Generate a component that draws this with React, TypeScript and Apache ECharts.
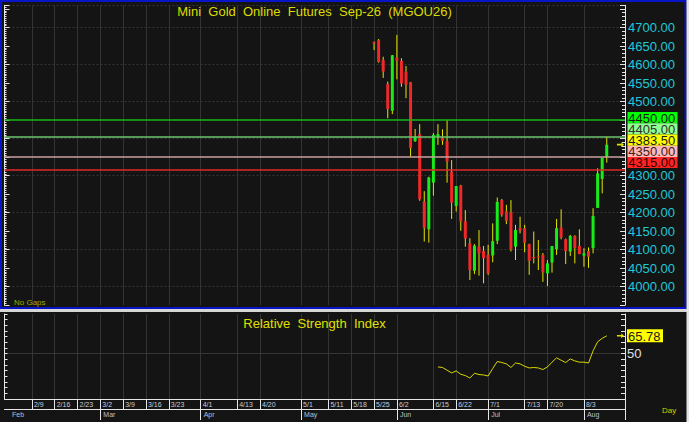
import React, { useEffect, useRef } from 'react';
import * as echarts from 'echarts';

// ---------- axis categories ----------
const firstDay = [2026, 1, 30];
const lastDay = [2026, 8, 14];
const noTradeDays = ['6/1', '6/10', '7/28', '7/29'];
const weekLabels = ['2/9', '2/16', '2/23', '3/2', '3/9', '3/16', '3/23', '4/1', '4/13', '4/20', '5/1', '5/11', '5/18', '5/25', '6/2', '6/15', '6/22', '7/1', '7/13', '7/20', '8/3'];
const monthStarts = ['2/2', '3/2', '4/1', '5/1', '6/2', '7/1', '8/3'];
const monthNames = ['Feb', 'Mar', 'Apr', 'May', 'Jun', 'Jul', 'Aug'];
// price tick labels that remain visible (the others sit under the level boxes)
const priceTickLabels = [4000, 4050, 4100, 4150, 4200, 4250, 4300, 4500, 4550, 4600, 4650, 4700];

// ---------- price data (daily OHLC from 5/25) ----------
const firstCandleDate = '5/25';
const opens = [4661, 4666, 4612, 4547, 4475, 4618, 4610, 4581, 4552, 4393, 4412, 4230, 4155, 4281, 4405, 4403, 4393, 4311, 4218, 4273, 4177, 4117, 4043, 4108, 4096, 4086, 4084, 4124, 4234, 4203, 4201, 4108, 4158, 4158, 4115, 4080, 4082, 4086, 4036, 4065, 4101, 4160, 4128, 4095, 4137, 4110, 4084, 4096, 4104, 4213, 4291, 4350];
const highs = [4662, 4669, 4621, 4554, 4626, 4680, 4617, 4596, 4553, 4426, 4439, 4258, 4297, 4415, 4439, 4425, 4450, 4342, 4272, 4275, 4207, 4131, 4115, 4153, 4110, 4113, 4171, 4241, 4237, 4221, 4234, 4167, 4189, 4167, 4116, 4149, 4126, 4091, 4072, 4110, 4183, 4209, 4130, 4140, 4139, 4155, 4104, 4106, 4212, 4320, 4348, 4405];
const lows = [4639, 4605, 4564, 4455, 4466, 4560, 4540, 4509, 4351, 4391, 4232, 4122, 4119, 4246, 4383, 4383, 4281, 4183, 4203, 4151, 4108, 4018, 4034, 4030, 4009, 4032, 4066, 4115, 4189, 4169, 4095, 4072, 4144, 4093, 4032, 4063, 4045, 4013, 4002, 4038, 4086, 4128, 4061, 4083, 4063, 4088, 4054, 4051, 4090, 4213, 4252, 4335];
const closes = [4657, 4607, 4581, 4480, 4625, 4610, 4549, 4545, 4375, 4405, 4236, 4159, 4295, 4410, 4412, 4394, 4338, 4227, 4272, 4176, 4130, 4045, 4111, 4090, 4077, 4036, 4123, 4229, 4194, 4178, 4101, 4153, 4151, 4119, 4070, 4077, 4080, 4038, 4063, 4110, 4158, 4133, 4096, 4137, 4105, 4088, 4090, 4081, 4191, 4306, 4348, 4383.5];

// ---------- RSI ----------
const rsiFirstDate = '6/16';
const rsiValues = [38.3, 37.8, 35.4, 33.0, 34.8, 31.8, 30.7, 28.5, 32.7, 31.6, 31.2, 30.3, 36.9, 43.1, 42.2, 41.0, 37.8, 41.8, 41.0, 38.9, 37.4, 37.8, 37.4, 36.0, 38.3, 42.5, 46.3, 44.2, 42.2, 45.4, 43.6, 42.5, 42.5, 41.8, 52.5, 60.5, 63.5, 65.78];

// ---------- reference levels ----------
const levelValues = [4450, 4405, 4383.5, 4350, 4315];
const levelHasLine = [true, true, false, true, true];
const levelLineColors = ['#16b816', '#6cc46c', '', '#c8a0a0', '#e02828'];
const levelBoxColors = ['#00ff00', '#90ff90', '#ffff00', '#ffb8b8', '#ff2424'];
const levelTextColors = ['#1a1a1a', '#303030', '#1a1a1a', '#402020', '#300000'];

const FONT = 'Liberation Sans, Arial, sans-serif';

function buildDates(): string[] {
  const out: string[] = [];
  const d = new Date(Date.UTC(firstDay[0], firstDay[1] - 1, firstDay[2]));
  const end = Date.UTC(lastDay[0], lastDay[1] - 1, lastDay[2]);
  while (d.getTime() <= end) {
    const wd = d.getUTCDay();
    const s = `${d.getUTCMonth() + 1}/${d.getUTCDate()}`;
    if (wd !== 0 && wd !== 6 && noTradeDays.indexOf(s) < 0) out.push(s);
    d.setUTCDate(d.getUTCDate() + 1);
  }
  return out;
}

export default function App() {
  const ref = useRef<HTMLDivElement>(null);

  useEffect(() => {
    document.body.style.margin = '0';
    if (!ref.current) return;
    const chart = echarts.init(ref.current, undefined, { renderer: 'svg' });

    const cats = buildDates();
    const lastIdx = cats.length - 1;
    const weekSet = new Set(weekLabels);
    const c0 = cats.indexOf(firstCandleDate);
    const r0 = cats.indexOf(rsiFirstDate);
    const candleData = opens.map((o, i) => [c0 + i, o, closes[i], lows[i], highs[i]]);
    const rsiData = rsiValues.map((v, i) => [cats[r0 + i], v]);
    const arrowCat = cats[c0 + opens.length + 2];

    const gridColor = '#343434';
    const white = '#e6e6e6';
    const rsiSplitColors = [];
    for (let v = 10; v <= 85; v += 5) rsiSplitColors.push(v === 50 ? gridColor : 'rgba(0,0,0,0)');

    const arrowPath = 'path://M0,2L5,2L5,0L8,3L5,6L5,4L0,4Z';

    const option: any = {
      animation: false,
      backgroundColor: '#141414',
      textStyle: { fontFamily: FONT },
      grid: [
        { left: 4.5, right: 64, top: 5.3, height: 299.9 },
        { left: 4.5, right: 64, top: 314, height: 85 },
      ],
      xAxis: [
        {
          gridIndex: 0, type: 'category', data: cats, boundaryGap: false,
          axisLine: { show: false }, axisTick: { show: false }, axisLabel: { show: false },
          splitLine: { show: true, interval: (i: number, v: string) => weekSet.has(v), lineStyle: { color: gridColor, width: 1 } },
        },
        {
          gridIndex: 1, type: 'category', data: cats, boundaryGap: false, position: 'bottom',
          axisLine: { show: true, lineStyle: { color: white, width: 1 } },
          axisTick: { show: true, interval: (i: number, v: string) => weekSet.has(v) || i === lastIdx, length: 10, lineStyle: { color: white } },
          axisLabel: {
            show: true, interval: (i: number, v: string) => weekSet.has(v), formatter: (v: string) => v,
            color: '#c4ccdc', fontSize: 7, align: 'left', margin: 2, padding: [0, 0, 0, 2], fontFamily: FONT,
          },
          splitLine: { show: true, interval: (i: number, v: string) => weekSet.has(v), lineStyle: { color: gridColor, width: 1 } },
        },
        {
          gridIndex: 1, type: 'category', data: cats, boundaryGap: false, position: 'bottom', offset: 10,
          axisLine: { show: true, lineStyle: { color: white, width: 1 } },
          axisTick: { show: true, interval: (i: number, v: string) => monthStarts.slice(1).indexOf(v) >= 0 || i === lastIdx, length: 11, lineStyle: { color: white } },
          axisLabel: {
            show: true, interval: (i: number, v: string) => monthStarts.indexOf(v) >= 0,
            formatter: (v: string) => monthNames[monthStarts.indexOf(v)] || '',
            color: '#b4c0d4', fontSize: 7, align: 'left', margin: 2, padding: [0, 0, 0, 3], fontFamily: FONT,
          },
          splitLine: { show: false },
        },
      ],
      yAxis: [
        {
          gridIndex: 0, type: 'value', position: 'right', min: 3950, max: 4760, interval: 50,
          axisLine: { show: true, lineStyle: { color: white } },
          axisTick: { show: true, inside: true, length: 5, lineStyle: { color: white } },
          minorTick: { show: true, splitNumber: 5, length: 3, lineStyle: { color: white } },
          axisLabel: {
            show: true, margin: 3, color: '#1ec8d8', fontSize: 13, fontFamily: FONT,
            formatter: (v: number) => (priceTickLabels.indexOf(v) >= 0 ? v.toFixed(2) : ''),
          },
          splitLine: { show: false },
        },
        {
          gridIndex: 0, type: 'value', position: 'left', min: 3950, max: 4760, interval: 50,
          axisLine: { show: true, lineStyle: { color: white } },
          axisTick: { show: true, inside: true, length: 5, lineStyle: { color: white } },
          minorTick: { show: true, splitNumber: 10, length: 2, lineStyle: { color: white } },
          axisLabel: { show: false },
          splitLine: { show: true, lineStyle: { color: ['rgba(0,0,0,0)', gridColor], type: [2, 2], width: 1 } },
        },
        {
          gridIndex: 1, type: 'value', position: 'right', min: 10, max: 85, interval: 5,
          axisLine: { show: true, lineStyle: { color: white } },
          axisTick: { show: true, inside: true, length: 4, lineStyle: { color: white } },
          axisLabel: { show: true, margin: 2, color: '#e0e0e0', fontSize: 13, fontFamily: FONT, formatter: (v: number) => (v === 50 ? '50' : '') },
          splitLine: { show: true, lineStyle: { color: rsiSplitColors, width: 1 } },
        },
        {
          gridIndex: 1, type: 'value', position: 'left', min: 10, max: 85, interval: 5,
          axisLine: { show: true, lineStyle: { color: white } },
          axisTick: { show: true, inside: true, length: 3, lineStyle: { color: white } },
          axisLabel: { show: false },
          splitLine: { show: false },
        },
      ],
      series: [
        {
          type: 'custom',
          name: 'MGOU26',
          xAxisIndex: 0,
          yAxisIndex: 0,
          data: candleData,
          encode: { x: 0, y: [1, 2, 3, 4] },
          renderItem: (params: any, api: any) => {
            const x = api.value(0);
            const o = api.value(1);
            const c = api.value(2);
            const l = api.value(3);
            const h = api.value(4);
            const pO = api.coord([x, o]);
            const pC = api.coord([x, c]);
            const pL = api.coord([x, l]);
            const pH = api.coord([x, h]);
            const w = 3;
            const top = Math.min(pO[1], pC[1]);
            const bot = Math.max(pO[1], pC[1]);
            return {
              type: 'group',
              children: [
                { type: 'line', shape: { x1: pH[0], y1: pH[1], x2: pL[0], y2: pL[1] }, style: { stroke: '#e4e400', lineWidth: 1 } },
                { type: 'rect', shape: { x: pO[0] - w / 2, y: top, width: w, height: Math.max(bot - top, 1.2) }, style: { fill: c >= o ? '#18ec18' : '#f02828' } },
              ],
            };
          },
          markLine: {
            silent: true,
            symbol: ['none', 'none'],
            label: { show: false },
            data: levelValues
              .map((v, i) => ({ v, i }))
              .filter((d) => levelHasLine[d.i])
              .map((d) => ({ yAxis: d.v, lineStyle: { color: levelLineColors[d.i], width: 1.5, type: 'solid' } })),
          },
          markPoint: {
            silent: true,
            symbol: arrowPath,
            symbolSize: [7, 5],
            label: { show: false },
            itemStyle: { color: '#e0e000' },
            data: [{ coord: [arrowCat, closes[closes.length - 1]] }],
          },
        },
        {
          type: 'line',
          name: 'RSI',
          xAxisIndex: 1,
          yAxisIndex: 2,
          data: rsiData,
          symbol: 'none',
          lineStyle: { color: '#d8d800', width: 1 },
          markPoint: {
            silent: true,
            symbol: arrowPath,
            symbolSize: [7, 5],
            label: { show: false },
            itemStyle: { color: '#e0e000' },
            data: [{ coord: [arrowCat, rsiValues[rsiValues.length - 1]] }],
          },
        },
      ],
    };

    chart.setOption(option);

    // annotation boxes on the price axis, positioned from the axis scale
    const boxH = 11.2;
    const boxes: any[] = [];
    const top0 = (chart.convertToPixel({ yAxisIndex: 0 }, levelValues[0]) as number) - 8;
    const rich: any = {};
    const lines: string[] = [];
    levelValues.forEach((v, i) => {
      boxes.push({
        type: 'rect', z: 100,
        shape: { x: 627.5, y: top0 + i * boxH, width: 50, height: boxH },
        style: { fill: levelBoxColors[i] },
      });
      rich['l' + i] = { fill: levelTextColors[i], fontSize: 13, fontFamily: FONT, lineHeight: boxH, height: boxH };
      lines.push(`{l${i}|${v.toFixed(2)}}`);
    });
    boxes.push({
      type: 'text', z: 101, x: 628.3, y: top0 + 0.5,
      style: { text: lines.join('\n'), rich, textVerticalAlign: 'top', textAlign: 'left', lineHeight: boxH, font: `13px ${FONT}` },
    });
    const rsiLast = rsiValues[rsiValues.length - 1];
    const rsiY = chart.convertToPixel({ yAxisIndex: 2 }, rsiLast) as number;

    chart.setOption({
      graphic: {
        elements: [
          { type: 'rect', z: 90, shape: { x: 1, y: 1, width: 684.5, height: 307 }, style: { fill: 'none', stroke: '#0814c8', lineWidth: 2 } },
          { type: 'rect', z: 90, shape: { x: 0, y: 309, width: 689, height: 3 }, style: { fill: '#d6d6d6' } },
          { type: 'rect', z: 90, shape: { x: 686.5, y: 0, width: 3, height: 422 }, style: { fill: '#e4e4e4' } },
          {
            type: 'text', z: 95, x: 314.5, y: 11,
            style: { text: 'Mini  Gold  Online  Futures  Sep-26  (MGOU26)', fill: '#dcdc00', font: `13px ${FONT}`, textAlign: 'center', textVerticalAlign: 'middle' },
          },
          {
            type: 'text', z: 95, x: 314.5, y: 323,
            style: { text: 'Relative  Strength  Index', fill: '#e0e000', font: `13px ${FONT}`, textAlign: 'center', textVerticalAlign: 'middle' },
          },
          {
            type: 'text', z: 95, x: 14, y: 302,
            style: { text: 'No Gaps', fill: '#a8a800', font: `8px ${FONT}`, textAlign: 'left', textVerticalAlign: 'middle' },
          },
          {
            type: 'text', z: 95, x: 662, y: 410.5,
            style: { text: 'Day', fill: '#d4cc00', font: `8px ${FONT}`, textAlign: 'left', textVerticalAlign: 'middle' },
          },
          ...boxes,
          { type: 'rect', z: 100, shape: { x: 627, y: rsiY - 6.5, width: 36, height: 13 }, style: { fill: '#ffff00' } },
          {
            type: 'text', z: 101, x: 628, y: rsiY + 0.5,
            style: { text: rsiLast.toFixed(2), fill: '#1a1a1a', font: `13px ${FONT}`, textAlign: 'left', textVerticalAlign: 'middle' },
          },
        ],
      },
    });

    return () => {
      chart.dispose();
    };
  }, []);

  return <div ref={ref} style={{ width: 689, height: 422 }} />;
}
